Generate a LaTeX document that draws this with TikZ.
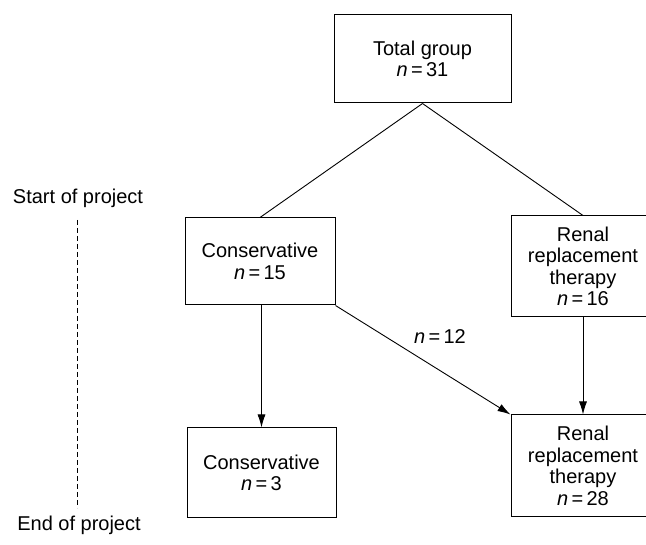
\documentclass[tikz,border=0pt]{standalone}
\usepackage{fontspec}
\setmainfont{Liberation Sans}
\usetikzlibrary{arrows.meta}
\begin{document}
\begin{tikzpicture}[x=1pt,y=-1pt,
  box/.style={draw,line width=1pt,inner sep=0pt,align=center,
    font=\fontsize{20}{21.5}\selectfont},
  lbl/.style={font=\fontsize{20}{21.5}\selectfont,inner sep=0pt},
  conn/.style={line width=0.9pt},
  arr/.style={line width=0.9pt,-{Latex[length=13pt,width=8pt]}}]
\useasboundingbox (0,0) rectangle (646,545);
\fill[white] (0,0) rectangle (646,545);
\node[box,minimum width=177pt,minimum height=88pt] (total) at (422.5,59) {Total group\\\textit{n}\,=\,31};
\node[box,minimum width=150pt,minimum height=87pt] (cons1) at (260,261.5) {Conservative\\\textit{n}\,=\,15};
\node[box,minimum width=144pt,minimum height=101pt] (rrt1) at (583,266.5) {Renal\\replacement\\therapy\\\textit{n}\,=\,16};
\node[box,minimum width=149pt,minimum height=90pt] (cons2) at (261.5,473) {Conservative\\\textit{n}\,=\,3};
\node[box,minimum width=144pt,minimum height=102pt] (rrt2) at (583,466) {Renal\\replacement\\therapy\\\textit{n}\,=\,28};
\draw[conn] (total.south) -- (cons1.north);
\draw[conn] (total.south) -- (rrt1.north);
\draw[arr] (cons2.north |- cons1.south) -- (cons2.north);
\draw[arr] (rrt1.south) -- (rrt2.north);
\draw[arr] (cons1.south east) -- (rrt2.north west);
\node[lbl] (n12) at (440,337) {\textit{n}\,=\,12};
\node[lbl] (start) at (78,198) {Start of project};
\node[lbl] (end) at (79,525) {End of project};
\coordinate (d1) at (77,220);
\coordinate (d2) at (77,508);
\draw[line width=0.8pt,dash pattern=on 5pt off 3pt] (d1) -- (d2);
\end{tikzpicture}
\end{document}
